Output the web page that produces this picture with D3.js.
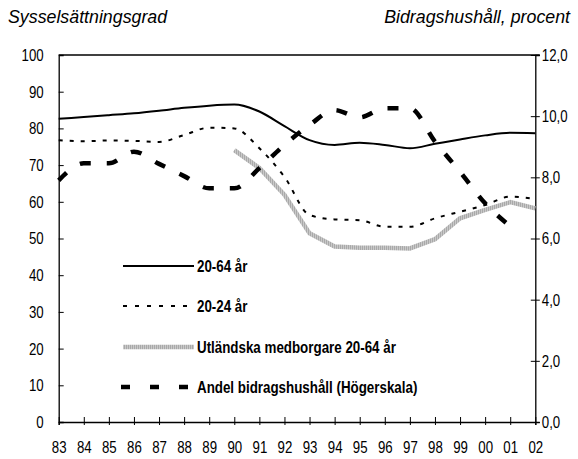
<!DOCTYPE html>
<html>
<head>
<meta charset="utf-8">
<script src="https://cdn.jsdelivr.net/npm/d3@7"></script>
<style>
  body { margin: 0; background: #fff; }
  .tick-label { font-family: "Liberation Sans", Arial, sans-serif; font-size: 17px; fill: #000; }
  .title { font-family: "Liberation Sans", Arial, sans-serif; font-style: italic; font-size: 17.8px; fill: #000; }
  .legend-label { font-family: "Liberation Sans", Arial, sans-serif; font-weight: bold; font-size: 16.5px; fill: #000; }
</style>
</head>
<body>
<div id="chart"></div>
<script>
// Data
const years = ["83","84","85","86","87","88","89","90","91","92","93","94","95","96","97","98","99","00","01","02"];
const emp2064 = [82.6,83.1,83.6,84.1,84.8,85.6,86.2,86.5,84.6,80.6,76.8,75.5,76.1,75.5,74.6,75.8,77.0,78.1,78.8,78.7];
const emp2024 = [76.8,76.5,76.7,76.6,76.3,78.2,80.2,80.0,74.6,66.8,56.4,55.2,55.0,53.2,53.2,55.5,57.3,59.1,61.4,60.8];
const foreign = [null,null,null,null,null,null,null,74.1,69.2,61.9,51.4,47.8,47.5,47.5,47.3,49.8,55.5,57.8,59.9,58.2];
const welfare = [7.9,8.46,8.46,8.84,8.44,8.04,7.64,7.64,8.3,9.06,9.71,10.2,9.96,10.26,10.26,9.17,8.18,7.15,6.4,null];

const leftTicks = [0,10,20,30,40,50,60,70,80,90,100];
const rightTicks = [0,2,4,6,8,10,12];
const legendLabels = ["20-64 år","20-24 år","Utländska medborgare 20-64 år","Andel bidragshushåll (Högerskala)"];

const width = 578, height = 459;
const plot = { left: 58.7, right: 535.3, top: 55, bottom: 422 };

const svg = d3.select("#chart").append("svg")
  .attr("width", width).attr("height", height);

// hatch pattern for the grey series
const defs = svg.append("defs");
const pat = defs.append("pattern")
  .attr("id", "hatch").attr("patternUnits", "userSpaceOnUse")
  .attr("width", 2).attr("height", 4);
pat.append("rect").attr("width", 2).attr("height", 4).attr("fill", "#c9c9c9");
pat.append("rect").attr("width", 1).attr("height", 4).attr("fill", "#a9a9a9");

const x = d3.scalePoint().domain(years).range([plot.left, plot.right]);
const y = d3.scaleLinear().domain([0, 100]).range([plot.bottom, plot.top]);
const yR = d3.scaleLinear().domain([0, 12]).range([plot.bottom, plot.top]);

// squeeze text horizontally around its anchor point (the original uses a condensed face)
function condense(sel, f) {
  sel.each(function() {
    const t = d3.select(this);
    const ax = +t.attr("x") || 0;
    t.attr("transform", `translate(${ax},0) scale(${f},1) translate(${-ax},0)`);
  });
}

// Titles
svg.append("text").attr("class", "title").attr("x", 8).attr("y", 23).text("Sysselsättningsgrad");
svg.append("text").attr("class", "title").attr("x", 570).attr("y", 23)
  .attr("text-anchor", "end").text("Bidragshushåll, procent");

// Frame
svg.append("line").attr("x1", plot.left).attr("x2", plot.right + 4.5)
  .attr("y1", plot.top).attr("y2", plot.top).attr("stroke", "#000").attr("stroke-width", 1.3);

// Left axis
const leftAxis = svg.append("g").attr("transform", `translate(${plot.left},0)`)
  .call(d3.axisLeft(y).tickValues(leftTicks).tickSize(-5).tickPadding(15).tickFormat(d3.format("d")));
leftAxis.select(".domain").attr("stroke-width", 1.3);
leftAxis.selectAll(".tick line").filter(d => d === 0 || d === 100).remove();

// Right axis
const rightAxis = svg.append("g").attr("transform", `translate(${plot.right},0)`)
  .call(d3.axisRight(yR).tickValues(rightTicks).tickSize(4.5).tickPadding(2)
    .tickFormat(d => d3.format(".1f")(d).replace(".", ",")));
rightAxis.select(".domain").attr("stroke-width", 1.3);
rightAxis.selectAll(".tick line").attr("x1", -4.5);

// Bottom axis
const bottomAxis = svg.append("g").attr("transform", `translate(0,${plot.bottom})`)
  .call(d3.axisBottom(x).tickSize(3).tickPadding(16));
bottomAxis.select(".domain").attr("stroke-width", 1.3);
bottomAxis.selectAll(".tick line").attr("y1", -5);

svg.selectAll(".tick text").attr("class", "tick-label")
  .attr("font-family", null).attr("font-size", null)
  .call(condense, 0.78);

// Lines
const lineL = d3.line().defined(d => d != null)
  .x((d, i) => x(years[i])).y(d => y(d)).curve(d3.curveMonotoneX);
const lineR = d3.line().defined(d => d != null)
  .x((d, i) => x(years[i])).y(d => yR(d)).curve(d3.curveMonotoneX);
const lineG = d3.line().defined(d => d != null)
  .x((d, i) => x(years[i])).y(d => y(d));

const styles = [
  { stroke: "#000", width: 2, dash: null },
  { stroke: "#000", width: 2, dash: "4,7" },
  { stroke: "url(#hatch)", width: 4.5, dash: null },
  { stroke: "#000", width: 4.5, dash: "11,16" }
];

svg.append("path").datum(foreign).attr("d", lineG)
  .attr("fill", "none").attr("stroke", styles[2].stroke).attr("stroke-width", styles[2].width);
svg.append("path").datum(emp2064).attr("d", lineL)
  .attr("fill", "none").attr("stroke", styles[0].stroke).attr("stroke-width", styles[0].width);
svg.append("path").datum(emp2024).attr("d", lineL)
  .attr("fill", "none").attr("stroke", styles[1].stroke).attr("stroke-width", styles[1].width)
  .attr("stroke-dasharray", styles[1].dash);
svg.append("path").datum(welfare).attr("d", lineR)
  .attr("fill", "none").attr("stroke", styles[3].stroke).attr("stroke-width", styles[3].width)
  .attr("stroke-dasharray", styles[3].dash);

// Legend
const legendY = [266, 306, 347, 387];
const legend = svg.append("g");
legendLabels.forEach((lab, i) => {
  const s = styles[i];
  legend.append("line")
    .attr("x1", i === 3 ? 121 : 123).attr("x2", 194)
    .attr("y1", legendY[i]).attr("y2", legendY[i])
    .attr("stroke", s.stroke).attr("stroke-width", s.width)
    .attr("stroke-dasharray", i === 3 ? "9,20" : (i === 1 ? "4,8" : null));
  legend.append("text").attr("class", "legend-label")
    .attr("x", 197).attr("y", legendY[i]).attr("dy", "0.36em").text(lab)
    .call(condense, 0.81);
});
</script>
</body>
</html>
